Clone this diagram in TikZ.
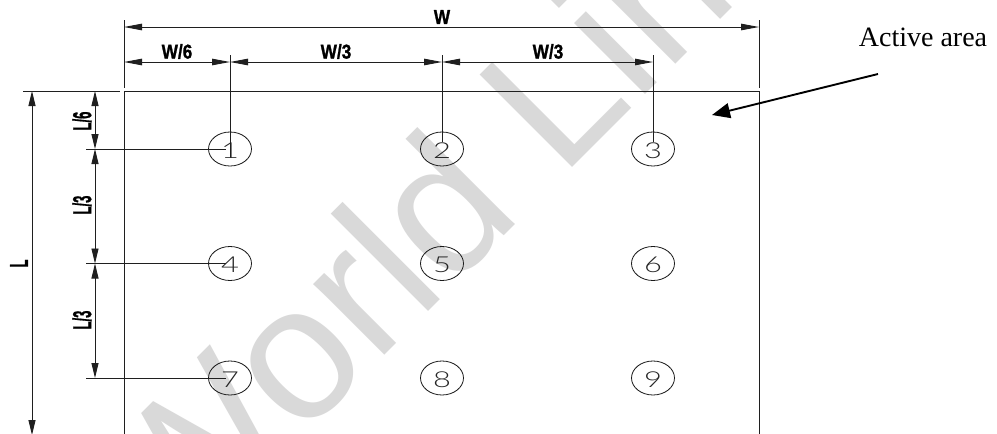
\documentclass[tikz,border=0pt]{standalone}
\usepackage{fontspec}
\setmainfont{Liberation Sans}
\newfontfamily\serifact{Liberation Serif}
\newfontfamily\cadbold[BoldFeatures={FakeBold=1.2}]{Liberation Sans}
\newfontfamily\cadthin{Lato Light}
\usetikzlibrary{arrows.meta,shapes.geometric}
\tikzset{
  cadline/.style={draw=black!88,line width=0.9pt},
  hdim/.style={cadline,{Triangle[length=18pt,width=6.5pt]}-{Triangle[length=18pt,width=6.5pt]}},
  vdim/.style={cadline,{Triangle[length=15pt,width=7pt]}-{Triangle[length=15pt,width=7pt]}},
  hlabel/.style={inner sep=0pt,font=\fontsize{20}{20}\selectfont\cadbold\bfseries,xscale=.86},
  vlabel/.style={inner sep=0pt,font=\fontsize{26}{26}\selectfont\cadbold\bfseries,rotate=90,xscale=.5},
  pt/.style={draw=black!90,line width=0.8pt,ellipse,minimum width=43pt,minimum height=34pt,inner sep=0pt},
  digit/.style={inner sep=0pt,font=\fontsize{22}{22}\selectfont\cadthin,text=black!85,xscale=1.4},
  wmark/.style={inner sep=0pt,text=black!15,font=\fontsize{190}{190}\selectfont,rotate=45,anchor=base west}
}
\begin{document}
\begin{tikzpicture}[x=1pt,y=-1pt]
\useasboundingbox (0,0) rectangle (997,434);
\fill[white] (0,0) rectangle (997,434);
\begin{scope}
\clip (0,0) rectangle (997,434);
\node[wmark] (mark) at (176,564) {World Link};
\end{scope}

% anchors of the plate
\coordinate (tl) at (124,91);
\coordinate (tr) at (759,91);
\coordinate (bl) at (124,434);
\coordinate (br) at (759,434);
\draw[cadline] (bl) -- (tl) -- (tr) -- (br);

% circles
\foreach \n/\x/\y in {1/230/149,2/442/149,3/653/149,4/230/263.5,5/442/263.5,6/653/263.5,7/230/378,8/442/378,9/653/378}{
  \node[pt] (c\n) at (\x,\y) {};
  \node[digit] (n\n) at ([yshift=-1.5pt]c\n.center) {\n};
}

% extension lines
\coordinate (wa) at (124,20);
\coordinate (wb) at (759,20);
\coordinate (wa2) at (124,88);
\coordinate (wb2) at (759,88);
\draw[cadline] (wa) -- (wa2);
\draw[cadline] (wb) -- (wb2);
\coordinate (e1) at (230,55);
\coordinate (e2) at (442,55);
\coordinate (e3) at (653,55);
\coordinate (c1e) at (230,157);
\coordinate (c2e) at (442,142);
\coordinate (c3e) at (653,142);
\draw[cadline] (e1) -- (c1e);
\draw[cadline] (e2) -- (c2e);
\draw[cadline] (e3) -- (c3e);
\coordinate (l0) at (23,91);
\coordinate (l0e) at (120,91);
\draw[cadline] (l0) -- (l0e);
\coordinate (l1) at (86,149);
\coordinate (l2) at (86,263.5);
\coordinate (l3) at (86,378);
\coordinate (l1e) at (226,149);
\coordinate (l2e) at (226,263.5);
\coordinate (l3e) at (226,378);
\draw[cadline] (l1) -- (l1e);
\draw[cadline] (l2) -- (l2e);
\draw[cadline] (l3) -- (l3e);

% dimension lines
\coordinate (dwa) at (124,27);
\coordinate (dwb) at (759,27);
\draw[hdim] (dwa) -- (dwb);
\coordinate (d0) at (124,62);
\coordinate (d1) at (230,62);
\coordinate (d2) at (442,62);
\coordinate (d3) at (653,62);
\draw[hdim] (d0) -- (d1);
\draw[hdim] (d1) -- (d2);
\draw[hdim] (d2) -- (d3);
\coordinate (v0) at (95,91);
\coordinate (v1) at (95,149);
\coordinate (v2) at (95,263.5);
\coordinate (v3) at (95,378);
\draw[vdim] (v0) -- (v1);
\draw[vdim] (v1) -- (v2);
\draw[vdim] (v2) -- (v3);
\coordinate (la) at (32,91);
\coordinate (lb) at (32,435);
\draw[vdim] (la) -- (lb);

% labels
\node[hlabel] (tW) at (442,17) {W};
\node[hlabel] (tW6) at (177,51.5) {W/6};
\node[hlabel] (tW3a) at (336,51.5) {W/3};
\node[hlabel] (tW3b) at (548,51.5) {W/3};
\node[vlabel] (tL) at (19,263.5) {L};
\node[vlabel] (tL6) at (82,121) {L/6};
\node[vlabel] (tL3a) at (82,205) {L/3};
\node[vlabel] (tL3b) at (82,320) {L/3};

% active area
\node[inner sep=0pt,font=\fontsize{28}{28}\selectfont\serifact] (act) at (923,37) {Active area};
\coordinate (aa) at (878,74);
\coordinate (ab) at (712,115);
\draw[line width=1.9pt,black,-{Triangle[length=18pt,width=15pt]}] (aa) -- (ab);
\end{tikzpicture}
\end{document}
